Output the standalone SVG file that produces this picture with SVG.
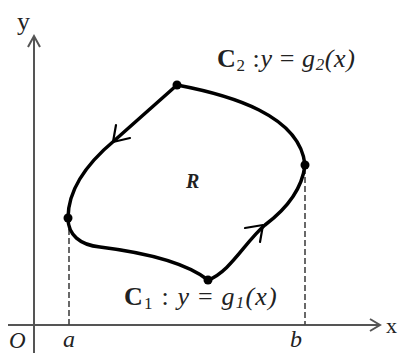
<svg xmlns="http://www.w3.org/2000/svg" width="399" height="353" viewBox="0 0 399 353">
<style>
.axis{stroke:#555;stroke-width:2;fill:none}
.dash{stroke:#444;stroke-width:1.6;stroke-dasharray:6,3;fill:none}
.curve{stroke:#000;stroke-width:3.5;fill:none;stroke-linecap:round;stroke-linejoin:round}
.arr{stroke:#000;stroke-width:2.2;fill:none;stroke-linecap:round;stroke-linejoin:round}
.lbl{font-family:"Liberation Serif","Times New Roman",serif;fill:#222}
.it{font-style:italic}
.dot{fill:#000}
</style>
<rect width="399" height="353" fill="#fff"/>
<g id="axes">
<path class="axis" d="M34,353 L34,37"/>
<path class="axis" d="M28,47 L34,36 L40,47" stroke-width="2.5"/>
<path class="axis" d="M8,325 L380,325"/>
<path class="axis" d="M370,319 L380,325 L370,331"/>
<text class="lbl" x="17" y="30" font-size="26" fill="#334">y</text>
<text class="lbl" x="386" y="333" font-size="22">x</text>
<text class="lbl it" x="9" y="348" font-size="23">O</text>
<text class="lbl it" x="63" y="347" font-size="24">a</text>
<text class="lbl it" x="290" y="347" font-size="24">b</text>
</g>
<g id="connectors">
<path class="dash" d="M69,220 L69,325"/>
<path class="dash" d="M305,168 L305,325"/>
<path class="curve" d="M177,85 C230,95 300,115 305,165 C302,190 285,210 265,225 C245,242 230,272 208,280 C185,262 140,252 100,247 C80,245 68,235 68,218 C68,190 85,165 115,140 L177,85"/>
<path class="arr" d="M116,125 L113,142 L130,138"/>
<path class="arr" d="M245,228 L263,225 L260,242"/>
</g>
<g id="node-top"><circle class="dot" cx="177" cy="85" r="4.5"/></g>
<g id="node-right"><circle class="dot" cx="305" cy="165" r="4.5"/></g>
<g id="node-bottom"><circle class="dot" cx="208" cy="280" r="4.5"/></g>
<g id="node-left"><circle class="dot" cx="68" cy="218" r="4.5"/></g>
<g id="label-R"><text class="lbl it" x="186" y="188" font-size="20" font-weight="bold">R</text></g>
<g id="label-C2">
<text class="lbl" x="217" y="67" font-size="26" letter-spacing="0.6"><tspan font-weight="bold">C</tspan><tspan font-size="17" dy="4">2</tspan><tspan dy="-4"> :</tspan><tspan class="it">y</tspan><tspan> = </tspan><tspan class="it">g</tspan><tspan class="it" font-size="17" dy="3">2</tspan><tspan class="it" dy="-3">(x)</tspan></text>
</g>
<g id="label-C1">
<text class="lbl" x="124" y="305" font-size="26" letter-spacing="1.2"><tspan font-weight="bold">C</tspan><tspan font-size="17" dy="4">1</tspan><tspan dy="-4"> : </tspan><tspan class="it">y</tspan><tspan> = </tspan><tspan class="it">g</tspan><tspan class="it" font-size="17" dy="3">1</tspan><tspan class="it" dy="-3">(x)</tspan></text>
</g>
</svg>
